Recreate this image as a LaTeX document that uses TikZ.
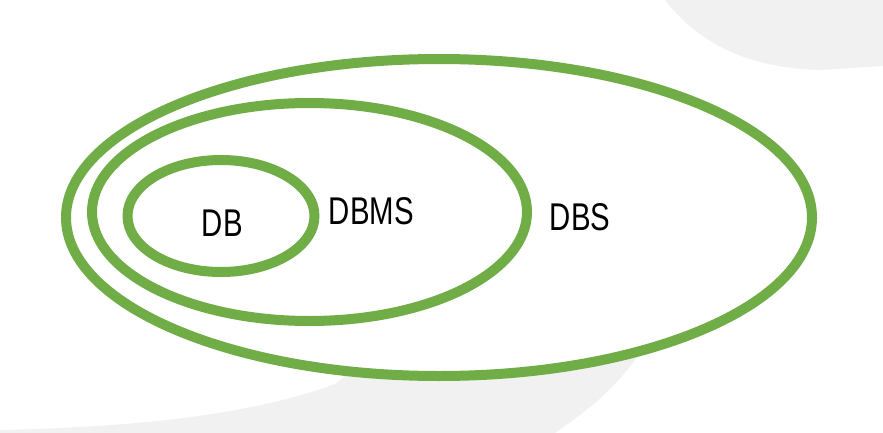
\documentclass[tikz,border=0pt]{standalone}
\usepackage{fontspec}
\newfontfamily\labelfont[FakeStretch=0.76]{Liberation Sans}
\definecolor{ringgreen}{HTML}{70AD47}
\begin{document}
\begin{tikzpicture}[x=0.02cm,y=-0.02cm,ring/.style={draw=ringgreen,line width=0.2cm},tag/.style={font=\labelfont\fontsize{22}{26}\selectfont,inner sep=0pt}]
			\useasboundingbox (0,0) rectangle (883,433);
			\fill[white] (0,0) rectangle (883,433);
			\fill[gray!11] (665,0) .. controls (700,45) and (750,68) .. (820,70) -- (883,66) -- (883,0) -- cycle;
			\fill[gray!11] (0,430) .. controls (150,427) and (260,412) .. (335,384) -- (440,300) -- (655,330) .. controls (620,390) and (580,415) .. (555,433) -- (0,433) -- cycle;
			\draw[ring,fill=white] (439,217.5) ellipse [x radius=373,y radius=158.5];
			\draw[ring] (309.5,212) ellipse [x radius=217.5,y radius=109];
			\draw[ring] (221,216) ellipse [x radius=93.5,y radius=56];
			\node[tag] (DB)at(222.3,223) {DB};
			\node[tag] (DBMS)at(371.4,211.5) {DBMS};
			\node[tag] (DBS)at(580,217) {DBS};
\end{tikzpicture}
\end{document}
